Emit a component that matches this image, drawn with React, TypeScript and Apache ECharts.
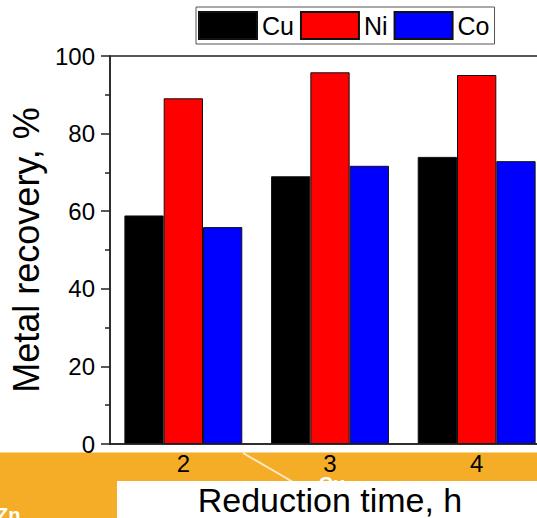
import React, { useEffect, useRef } from "react";
import * as echarts from "echarts";

const categories = ["2", "3", "4"];
const cuValues = [58.9, 69.0, 74.0];
const niValues = [89.1, 95.8, 95.1];
const coValues = [55.9, 71.7, 72.9];
const yTicks = { min: 0, max: 100, interval: 20 };

const FONT = "Liberation Sans";

export default function App() {
  const ref = useRef<HTMLDivElement>(null);
  useEffect(() => {
    if (!ref.current) return;
    const chart = echarts.init(ref.current, null, { renderer: "svg" });
    const barStyle = (color: string) => ({
      color,
      borderColor: "#111",
      borderWidth: 1,
    });
    chart.setOption({
      animation: false,
      backgroundColor: "#fff",
      textStyle: { fontFamily: FONT },
      graphic: [
        { type: "rect", z: -10, shape: { x: 0, y: 452.5, width: 537, height: 66 }, style: { fill: "#F5AD27" } },
        { type: "line", z: -9, shape: { x1: 243, y1: 453, x2: 293, y2: 482 }, style: { stroke: "rgba(255,255,255,0.75)", lineWidth: 2 } },
        { type: "text", z: -9, x: 306, y: 474, style: { text: "• Cu", fill: "#fff", fontSize: 20, fontWeight: "bold", fontFamily: FONT } },
        { type: "text", z: -9, x: -4, y: 505, style: { text: "Zn", fill: "#fff", fontSize: 20, fontWeight: "bold", fontFamily: FONT } },
        { type: "rect", z: -8, shape: { x: 117, y: 481, width: 420, height: 37 }, style: { fill: "#fff" } },
      ],
      legend: {
        left: 196,
        top: 7,
        orient: "horizontal",
        icon: "rect",
        padding: [4, 5, 4, 2],
        borderColor: "#555",
        borderWidth: 1,
        itemWidth: 58,
        itemHeight: 27,
        itemGap: 6,
        textStyle: { fontSize: 25, color: "#000", fontFamily: FONT },
        data: ["Cu", "Ni", "Co"],
      },
      grid: {
        left: 110,
        top: 56,
        width: 440,
        bottom: 74,
        show: true,
        borderColor: "#222",
        borderWidth: 1.5,
        backgroundColor: "transparent",
        outerBoundsMode: "none",
      },
      xAxis: {
        type: "category",
        data: categories,
        z: 10,
        axisLine: { lineStyle: { color: "#222", width: 1.5 } },
        axisTick: { show: false },
        axisLabel: { fontSize: 24, color: "#000", margin: 7, fontFamily: FONT },
        name: "Reduction time, h",
        nameLocation: "middle",
        nameGap: 39,
        nameTextStyle: { fontSize: 34, color: "#000", fontFamily: FONT },
      },
      yAxis: {
        type: "value",
        min: yTicks.min,
        max: yTicks.max,
        interval: yTicks.interval,
        z: 10,
        axisLine: { show: true, lineStyle: { color: "#222", width: 1.5 } },
        axisTick: { show: true, inside: false, length: 9, lineStyle: { color: "#222", width: 1.5 } },
        minorTick: { show: true, splitNumber: 2, length: 5, lineStyle: { color: "#222", width: 1.5 } },
        splitLine: { show: false },
        axisLabel: { fontSize: 24, color: "#000", margin: 15, fontFamily: FONT },
        name: "Metal recovery, %",
        nameLocation: "middle",
        nameGap: 55,
        nameTextStyle: { fontSize: 36, color: "#000", fontFamily: FONT },
      },
      series: [
        { name: "Cu", type: "bar", data: cuValues, barWidth: 39.3, barGap: "0%", itemStyle: barStyle("#000000") },
        { name: "Ni", type: "bar", data: niValues, barWidth: 39.3, barGap: "0%", itemStyle: barStyle("#FF0000") },
        { name: "Co", type: "bar", data: coValues, barWidth: 39.3, barGap: "0%", itemStyle: barStyle("#0000FF") },
      ],
    });
    return () => chart.dispose();
  }, []);
  return (
    <div
      ref={ref}
      style={{ position: "fixed", left: 0, top: 0, width: 537, height: 518 }}
    />
  );
}
